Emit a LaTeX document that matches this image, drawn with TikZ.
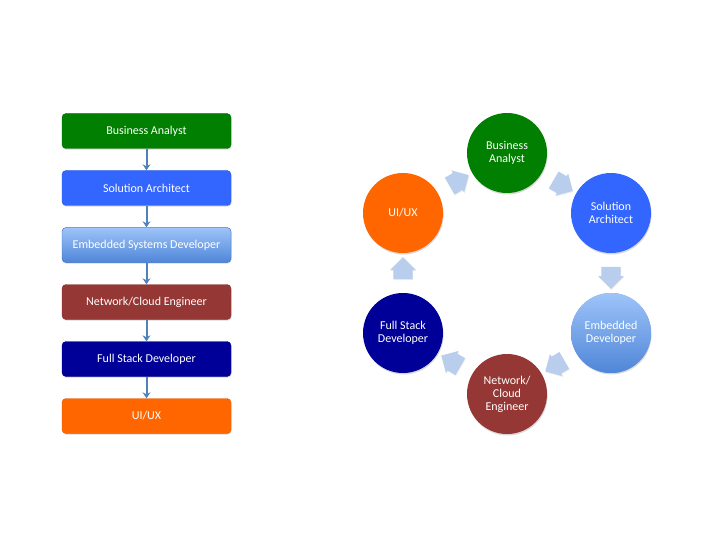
\documentclass[tikz,border=0pt]{standalone}
\usepackage{fontspec}
\setmainfont{Carlito}
\usepackage{tikz}
\usetikzlibrary{calc,shapes.arrows,shadows,arrows.meta}
\definecolor{baGreen}{HTML}{007F00}
\definecolor{saBlue}{HTML}{3366FF}
\definecolor{emTop}{HTML}{9EC4F8}
\definecolor{emBot}{HTML}{4F86D9}
\definecolor{ncRed}{HTML}{953735}
\definecolor{fsNavy}{HTML}{000099}
\definecolor{uxOrange}{HTML}{FF6600}
\definecolor{linkBlue}{HTML}{4F81BD}
\definecolor{chevBlue}{HTML}{B9CDEC}
\tikzset{
    rolebox/.style={
        rectangle,
        rounded corners=4pt,
        draw=#1!85!black,
        fill=#1,
        text=white,
        minimum width=169pt,
        minimum height=35pt,
        font={\fontsize{12pt}{13pt}\selectfont},
        drop shadow={opacity=0.3, shadow xshift=0.6pt, shadow yshift=-1.2pt}
    },
    rolecircle/.style={
        circle,
        fill=#1,
        text=white,
        minimum size=80pt,
        inner sep=0pt,
        align=center,
        font={\fontsize{12pt}{13pt}\selectfont},
        drop shadow={opacity=0.3, shadow xshift=0.6pt, shadow yshift=-1.5pt}
    },
    link/.style={draw=linkBlue, line width=2pt, -{Stealth[length=6pt,width=8pt]}},
    cyclearrow/.style={
        single arrow,
        fill=chevBlue,
        inner xsep=0pt, inner ysep=9.5pt,
        minimum height=22pt,
        single arrow head extend=3pt,
        drop shadow={opacity=0.15, shadow xshift=0.5pt, shadow yshift=-1pt},
        rotate=#1
    },
}
\begin{document}
\begin{tikzpicture}[x=1pt, y=-1pt]
\useasboundingbox (0,0) rectangle (720,540);

% career path, left
\node[rolebox=baGreen] (lba) at (146.5,131) {Business Analyst};
\node[rolebox=saBlue] (lsa) at (146.5,188) {Solution Architect};
\node[rolebox=emBot, top color=emTop, bottom color=emBot] (lem) at (146.5,245) {Embedded Systems Developer};
\node[rolebox=ncRed] (lnc) at (146.5,302) {Network/Cloud Engineer};
\node[rolebox=fsNavy] (lfs) at (146.5,359) {Full Stack Developer};
\node[rolebox=uxOrange] (lux) at (146.5,416) {UI/UX};

\draw[link] (lba) -- (lsa);
\draw[link] (lsa) -- (lem);
\draw[link] (lem) -- (lnc);
\draw[link] (lnc) -- (lfs);
\draw[link] (lfs) -- (lux);

% cycle, right
\node[rolecircle=baGreen] (ba) at (507,153) {Business\\Analyst};
\node[rolecircle=saBlue] (sa) at (611,213) {Solution\\Architect};
\node[rolecircle=emBot, top color=emTop, bottom color=emBot] (em) at (611,333) {Embedded\\Developer};
\node[rolecircle=ncRed] (nc) at (507,394) {Network/\\Cloud\\Engineer};
\node[rolecircle=fsNavy] (fs) at (403,333) {Full Stack\\Developer};
\node[rolecircle=uxOrange] (ux) at (403,213) {UI/UX};

\node[cyclearrow=30] (a1) at ($(ux)!0.5!(ba)$) {};
\node[cyclearrow=-30] (a2) at ($(ba)!0.5!(sa)$) {};
\node[cyclearrow=-90] (a3) at ($(sa)!0.5!(em)$) {};
\node[cyclearrow=-150] (a4) at ($(em)!0.5!(nc)$) {};
\node[cyclearrow=150] (a5) at ($(nc)!0.5!(fs)$) {};
\node[cyclearrow=90] (a6) at ($(fs)!0.5!(ux)$) {};
\end{tikzpicture}
\end{document}
